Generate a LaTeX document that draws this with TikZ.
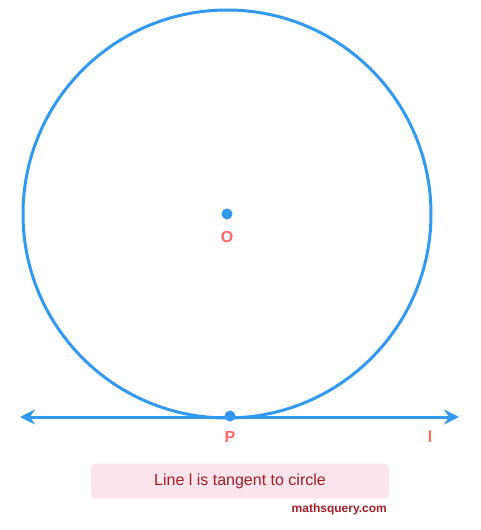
\documentclass[tikz,border=0pt]{standalone}
\usepackage{fontspec}
\setmainfont{Liberation Sans}
\usetikzlibrary{arrows.meta,positioning,calc}

\definecolor{circblue}{RGB}{51,153,238}
\definecolor{labred}{RGB}{255,102,102}
\definecolor{boxpink}{RGB}{252,228,236}
\definecolor{darkred}{RGB}{160,30,40}

\tikzset{
    ptlabel/.style={text=labred, font=\bfseries\fontsize{16}{18}\selectfont, inner sep=0pt},
    dot/.style={circle, fill=circblue, inner sep=0pt, minimum size=11pt},
    notebox/.style={fill=boxpink, rounded corners=5pt, minimum width=298pt, minimum height=35pt, text=darkred, font=\fontsize{16}{18}\selectfont}
}

\begin{document}
\begin{tikzpicture}[x=1pt,y=-1pt]
    \useasboundingbox (0,0) rectangle (481,530);
    \coordinate (O) at (227,214);
    \draw[circblue, line width=3pt] (O) circle (204);
    \node[dot] (centre) at (O) {};
    \node[dot] (touch) at (230,416) {};
    \coordinate (lend) at (20,417);
    \coordinate (rend) at (459,417);
    \draw[circblue, line width=3pt, {Stealth[length=15pt,width=15pt,inset=5pt]}-{Stealth[length=15pt,width=15pt,inset=5pt]}] (lend) -- (rend);
    \node[ptlabel] (olabel) at (227,237) {O};
    \node[ptlabel] (plabel) at (230,437) {P};
    \node[ptlabel] (llabel) at (430,437) {l};
    \node[notebox] (note) at (240,481) {Line l is tangent to circle};
    \node[text=darkred, font=\bfseries\fontsize{12}{14}\selectfont, anchor=east, inner sep=0pt] (site) at (387,509) {mathsquery.com};
\end{tikzpicture}
\end{document}
